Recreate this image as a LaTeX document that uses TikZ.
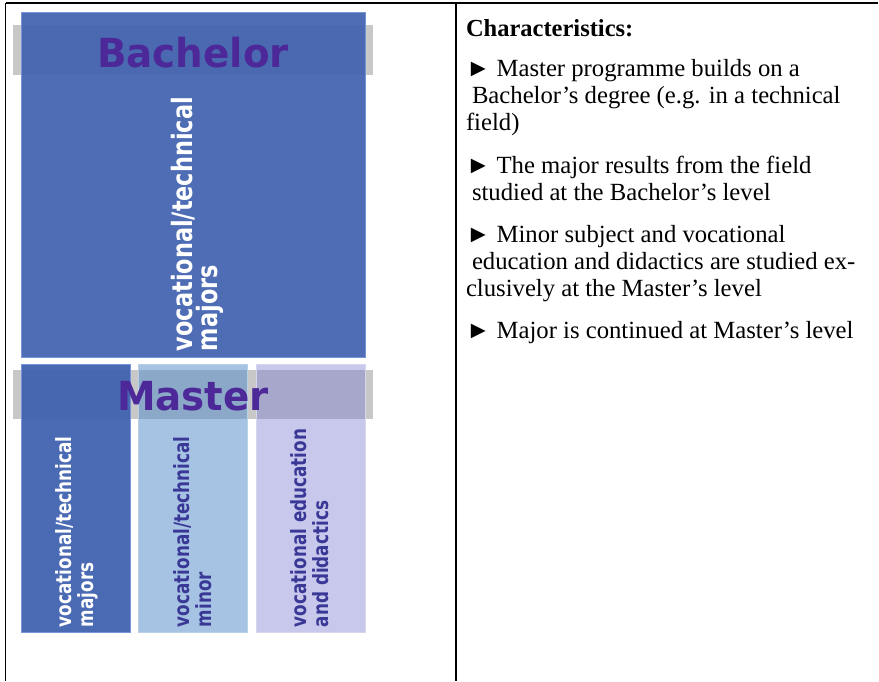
\documentclass[tikz,border=0pt]{standalone}
\usepackage{fontspec}
\setmainfont{Liberation Serif}
\newfontfamily\vsans[FakeStretch=0.8]{DejaVu Sans}
\newfontfamily\tsans[FakeStretch=0.97]{DejaVu Sans}
\definecolor{blueA}{RGB}{66,98,176}
\definecolor{blueEdge}{RGB}{120,150,215}
\definecolor{titleC}{RGB}{76,40,152}
\definecolor{bandC}{RGB}{200,200,200}
\definecolor{boxB}{RGB}{81,137,201}
\definecolor{boxC}{RGB}{118,118,208}
\definecolor{txtP}{RGB}{58,56,150}
\begin{document}
\begin{tikzpicture}[x=1pt,y=-1pt,
  every node/.style={inner sep=0pt, outer sep=0pt},
  bandbox/.style={fill=bandC, draw=none, anchor=north west, minimum width=360pt, minimum height=50pt},
  colbox/.style={anchor=north west, minimum width=109pt, minimum height=268pt},
  titletext/.style={anchor=base, text=titleC, font=\tsans\bfseries\fontsize{40}{44}\selectfont},
  vbig/.style={rotate=90, anchor=base west, align=left, font=\vsans\bfseries\fontsize{28}{25}\selectfont},
  vsmall/.style={rotate=90, anchor=base west, align=left, font=\vsans\bfseries\fontsize{21}{21.5}\selectfont},
  body/.style={anchor=base west, align=left, font=\fontsize{24.7}{27}\selectfont}]
\useasboundingbox (0,0) rectangle (879,681);
\fill[white] (0,0) rectangle (879,681);
% table rules
\draw[line width=1.4pt] (5.5,3) -- (878,3);
\draw[line width=1.4pt] (5.5,3) -- (5.5,681);
\draw[line width=1.4pt] (456,3) -- (456,681);
% Bachelor
\node[bandbox] (bachband) at (13,25) {};
\node[anchor=north west, minimum width=344pt, minimum height=345pt, fill=blueA, fill opacity=0.93, draw=blueEdge, line width=0.7pt] (bachbox) at (21,12) {};
% Master
\node[bandbox, minimum height=49pt] (masterband) at (13,370) {};
\node[colbox, fill=blueA, fill opacity=0.95, draw=blueEdge, line width=0.6pt] (mbox1) at (21,364) {};
\node[colbox, fill=boxB, fill opacity=0.5, draw=boxB!40!white, line width=0.6pt] (mbox2) at (138,364) {};
\node[colbox, fill=boxC, fill opacity=0.4, draw=boxC!30!white, line width=0.6pt] (mbox3) at (256,364) {};
% titles
\node[titletext] (bachtitle) at (193,67) {Bachelor};
\node[titletext] (mastertitle) at (193,410) {Master};
% vertical labels (anchor = baseline of the last line)
\node[vbig, text=white] (bachlabel) at (217,351) {vocational/technical\\majors};
\node[vsmall, text=white] (m1label) at (93,627) {vocational/technical\\majors};
\node[vsmall, text=txtP] (m2label) at (211,627) {vocational/technical\\minor};
\node[vsmall, text=txtP] (m3label) at (328,627) {vocational education\\and didactics};
% right column (anchor = baseline of the last line)
\node[body, font=\bfseries\fontsize{24.5}{27}\selectfont] (chartitle) at (466,36) {Characteristics:};
\node[body] (p1) at (466,130) {► Master programme builds on a\\\hspace*{6pt}Bachelor’s degree (e.g. in a technical\\field)};
\node[body] (p2) at (466,200) {► The major results from the field\\\hspace*{6pt}studied at the Bachelor’s level};
\node[body] (p3) at (466,296) {► Minor subject and vocational\\\hspace*{6pt}education and didactics are studied ex-\\clusively at the Master’s level};
\node[body] (p4) at (466,338) {► Major is continued at Master’s level};
\end{tikzpicture}
\end{document}
